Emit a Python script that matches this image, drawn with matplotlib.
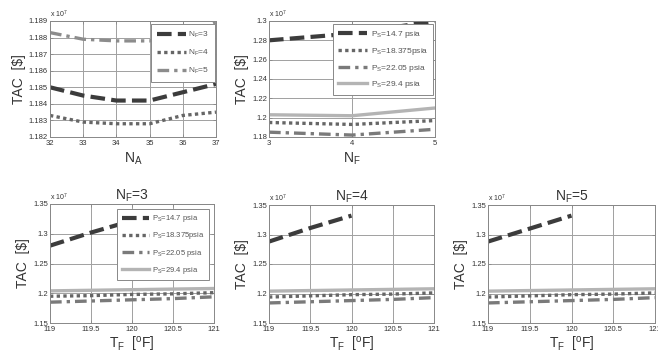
import matplotlib
matplotlib.use("Agg")
import matplotlib.pyplot as plt
import numpy as np

plt.rcParams['font.family'] = ['Liberation Sans', 'DejaVu Sans']
plt.rcParams['mathtext.default'] = 'regular'

# ---------------- data ----------------
NA = [32, 33, 34, 35, 36, 37]
tl_nf3 = [1.1850, 1.1845, 1.1842, 1.1842, 1.1847, 1.1852]
tl_nf4 = [1.1833, 1.1829, 1.1828, 1.1828, 1.1833, 1.1835]
tl_nf5 = [1.1883, 1.1879, 1.1878, 1.1878, 1.1881, 1.1889]
tl_labels = ['$N_F$=3', '$N_F$=4', '$N_F$=5']

NF = [3, 4, 5]
tm_p147 = [1.280, 1.287, 1.300]
tm_p18375 = [1.195, 1.193, 1.197]
tm_p2205 = [1.185, 1.182, 1.188]
tm_p294 = [1.203, 1.202, 1.210]
ps_labels = ['$P_S$=14.7 psia', '$P_S$=18.375psia', '$P_S$=22.05 psia', '$P_S$=29.4 psia']

TF = [119, 119.5, 120, 120.5, 121]
b3_p147 = [1.280, 1.302, 1.322, np.nan, np.nan]
b3_p18375 = [1.195, 1.196, 1.198, 1.199, 1.201]
b3_p2205 = [1.185, 1.187, 1.189, 1.191, 1.194]
b3_p294 = [1.204, 1.205, 1.206, 1.207, 1.208]

b4_p147 = [1.288, 1.311, 1.332, np.nan, np.nan]
b4_p18375 = [1.194, 1.196, 1.198, 1.199, 1.201]
b4_p2205 = [1.184, 1.186, 1.188, 1.190, 1.193]
b4_p294 = [1.204, 1.205, 1.206, 1.207, 1.208]

b5_p147 = [1.288, 1.310, 1.332, np.nan, np.nan]
b5_p18375 = [1.194, 1.196, 1.198, 1.199, 1.201]
b5_p2205 = [1.184, 1.186, 1.188, 1.190, 1.193]
b5_p294 = [1.204, 1.205, 1.206, 1.207, 1.208]
titles = ['$N_F$=3', '$N_F$=4', '$N_F$=5']

# ---------------- styles ----------------
W, H = 658, 363
fig = plt.figure(figsize=(W / 100, H / 100), dpi=100)

def rect(l, r, t, b):
    return [l / W, (H - b) / H, (r - l) / W, (b - t) / H]

TXT = '#333333'
S_DASH = dict(color='#3c3c3c', lw=3.0, ls=(0, (3.5, 1.5)))
S_DOT = dict(color='#666666', lw=2.4, ls=(0, (1, 1)))
S_DD = dict(color='#7a7a7a', lw=2.4, ls=(0, (3.5, 1.5, 1, 1.5)))
S_SOL = dict(color='#b4b4b4', lw=2.4, ls='-')
S_DD5 = dict(color='#8c8c8c', lw=2.4, ls=(0, (3.5, 1.5, 1, 1.5)))

def style(ax, xt, yt, ylim, xlim, xtl=None, ytl=None):
    ax.set_xlim(*xlim)
    ax.set_ylim(*ylim)
    ax.set_xticks(xt)
    ax.set_yticks(yt)
    if xtl is not None:
        ax.set_xticklabels(xtl)
    if ytl is not None:
        ax.set_yticklabels(ytl)
    ax.grid(True, color='#a0a0a0', lw=0.7)
    ax.set_axisbelow(True)
    ax.tick_params(direction='in', length=2.5, width=0.6, labelsize=5.5,
                   colors='#888888', labelcolor=TXT, top=True, right=True, pad=1.5)
    ax.tick_params(axis='x', pad=2.5)
    for s in ax.spines.values():
        s.set_color('#888888')
        s.set_linewidth(0.7)
    ax.set_ylabel('TAC  [$]', fontsize=10, color=TXT, labelpad=2)
    ax.text(0.0, 1.01, r'x $10^7$', transform=ax.transAxes, fontsize=5,
            color=TXT, ha='left', va='bottom')

def fix_legend(leg):
    leg.get_frame().set_edgecolor('#888888')
    leg.get_frame().set_linewidth(0.7)
    leg.get_frame().set_alpha(1.0)
    leg.set_zorder(10)
    for t in leg.get_texts():
        t.set_color('#555555')

# ---- top left ----
ax = fig.add_axes(rect(50, 216, 21, 137))
ax.plot(NA, tl_nf3, **S_DASH, label=tl_labels[0])
ax.plot(NA, tl_nf4, **S_DOT, label=tl_labels[1])
ax.plot(NA, tl_nf5, **S_DD5, label=tl_labels[2])
yt = [1.182, 1.183, 1.184, 1.185, 1.186, 1.187, 1.188, 1.189]
style(ax, NA, yt, (1.182, 1.189), (32, 37),
      ytl=['1.182', '1.183', '1.184', '1.185', '1.186', '1.187', '1.188', '1.189'])
ax.set_xlabel('$N_A$', fontsize=10, color=TXT, labelpad=2)
leg = ax.legend(loc='upper right', bbox_to_anchor=(0.995, 0.975), fontsize=6,
                handlelength=3.4, frameon=True, fancybox=False, borderpad=0.7,
                labelspacing=0.95, handletextpad=0.3, borderaxespad=0, framealpha=1)
fix_legend(leg)

# ---- top middle ----
ax = fig.add_axes(rect(269, 435, 21, 137))
ax.plot(NF, tm_p147, **S_DASH, label=ps_labels[0])
ax.plot(NF, tm_p18375, **S_DOT, label=ps_labels[1])
ax.plot(NF, tm_p2205, **S_DD, label=ps_labels[2])
ax.plot(NF, tm_p294, **S_SOL, label=ps_labels[3])
style(ax, NF, [1.18, 1.2, 1.22, 1.24, 1.26, 1.28, 1.3], (1.18, 1.3), (3, 5),
      ytl=['1.18', '1.2', '1.22', '1.24', '1.26', '1.28', '1.3'])
ax.set_xlabel('$N_F$', fontsize=10, color=TXT, labelpad=2)
leg = ax.legend(loc='upper right', bbox_to_anchor=(0.99, 0.975), fontsize=6,
                handlelength=3.5, frameon=True, fancybox=False, borderpad=0.6,
                labelspacing=0.7, handletextpad=0.4, borderaxespad=0, framealpha=1)
fix_legend(leg)

# ---- bottom row ----
bdata = [(b3_p147, b3_p18375, b3_p2205, b3_p294),
         (b4_p147, b4_p18375, b4_p2205, b4_p294),
         (b5_p147, b5_p18375, b5_p2205, b5_p294)]
brects = [rect(50, 214, 204, 323), rect(269, 434, 205, 323), rect(488, 655, 205, 323)]
for i, (d, r) in enumerate(zip(bdata, brects)):
    ax = fig.add_axes(r)
    ax.plot(TF, d[0], **S_DASH, label=ps_labels[0])
    ax.plot(TF, d[1], **S_DOT, label=ps_labels[1])
    ax.plot(TF, d[2], **S_DD, label=ps_labels[2])
    ax.plot(TF, d[3], **S_SOL, label=ps_labels[3])
    style(ax, TF, [1.15, 1.2, 1.25, 1.3, 1.35], (1.15, 1.35), (119, 121),
          xtl=['119', '119.5', '120', '120.5', '121'],
          ytl=['1.15', '1.2', '1.25', '1.3', '1.35'])
    ax.set_xlabel(r'$T_F$  [$^{o}$F]', fontsize=10, color=TXT, labelpad=1)
    ax.set_title(titles[i], fontsize=10, color=TXT, pad=3)
    if i == 0:
        leg = ax.legend(loc='upper right', bbox_to_anchor=(0.97, 0.96), fontsize=5.5,
                        handlelength=3.5, frameon=True, fancybox=False, borderpad=0.6,
                        labelspacing=0.8, handletextpad=0.4, borderaxespad=0,
                        framealpha=1)
        fix_legend(leg)

fig.savefig('out.png', dpi=100)
